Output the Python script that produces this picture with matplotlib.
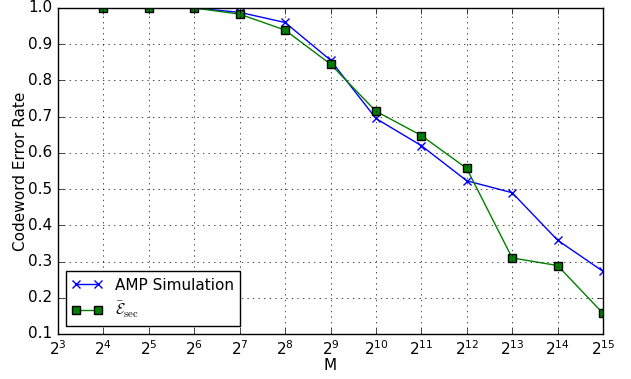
import numpy as np
import matplotlib
matplotlib.use('Agg')
import matplotlib.pyplot as plt
from matplotlib.ticker import NullLocator

# data
exponents = [4, 5, 6, 7, 8, 9, 10, 11, 12, 13, 14, 15]
amp_sim = [1.0, 1.0, 1.0, 0.988, 0.96, 0.856, 0.695, 0.62, 0.523, 0.49, 0.359, 0.273]
e_sec = [1.0, 1.0, 1.0, 0.983, 0.939, 0.845, 0.715, 0.648, 0.557, 0.31, 0.289, 0.157]

M = [2 ** e for e in exponents]

plt.style.use('classic')
fig = plt.figure(figsize=(6.31, 3.79), dpi=100)
ax = fig.add_axes([58 / 631, 1 - 334 / 379, 545 / 631, 326 / 379])

ax.plot(M, amp_sim, 'bx-', label='AMP Simulation', markersize=6, mew=1, lw=1)
ax.plot(M, e_sec, 'gs-', label=r'$\bar{\mathcal{E}}_{\rm sec}$',
        markersize=6, markeredgecolor='k', mew=1, lw=1)

ax.set_xscale('log', base=2)
ax.set_xlim(2 ** 3, 2 ** 15)
ax.set_ylim(0.1, 1.0)
ax.xaxis.set_minor_locator(NullLocator())
ax.set_xticks([2 ** e for e in range(3, 16)])
ax.set_yticks(np.arange(0.1, 1.01, 0.1))
ax.tick_params(labelsize=11)
ax.grid(True)
ax.set_xlabel('M', fontsize=11, labelpad=0)
ax.set_ylabel('Codeword Error Rate', fontsize=11, labelpad=0)
ax.legend(loc='lower left', numpoints=2, fontsize=11, markerscale=0.9,
          handlelength=2.0, borderaxespad=0.5)

fig.savefig('out.png', dpi=100)
